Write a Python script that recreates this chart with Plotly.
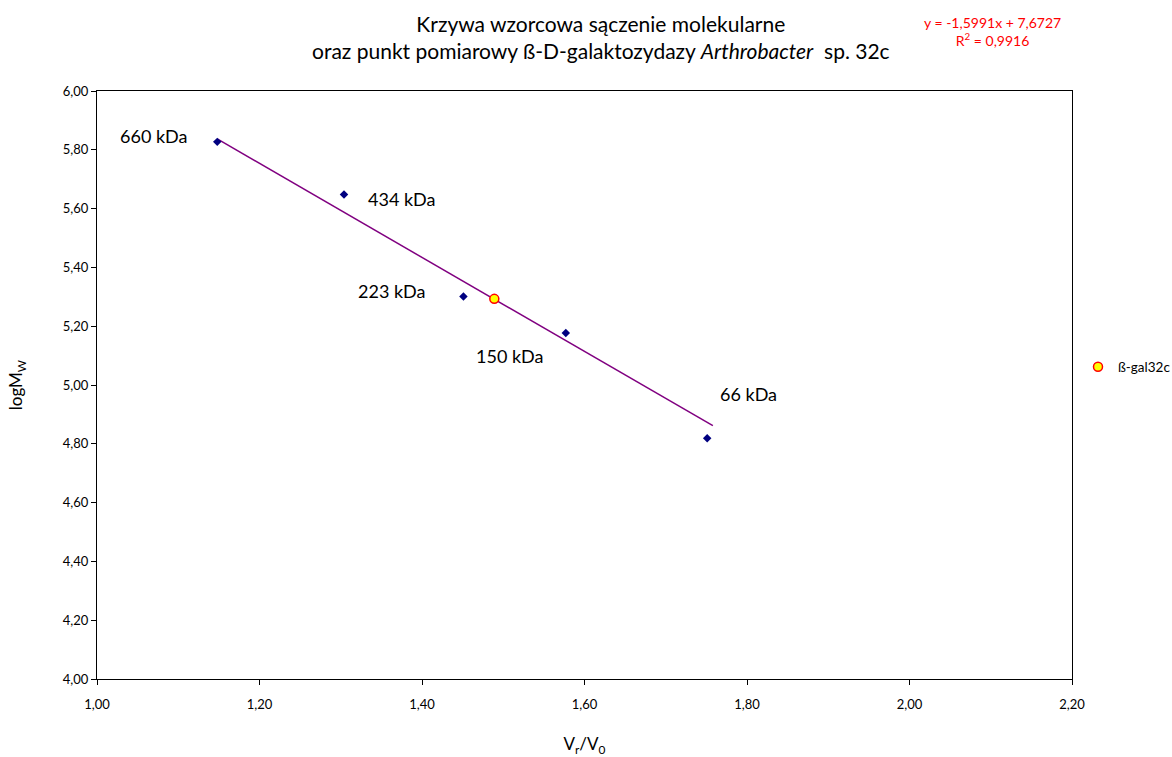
import numpy as np
import plotly.graph_objects as go

# Standards (Vr/V0 vs logMw)
std_labels = ["660 kDa", "434 kDa", "223 kDa", "150 kDa", "66 kDa"]
std_x = [1.148, 1.304, 1.451, 1.577, 1.751]
std_y = [5.827, 5.648, 5.301, 5.177, 4.819]
# label offsets (pixels) relative to each point
label_dx = [-64, 57, -72, -56, 41]
label_dy = [-6, 5, -6, 23, -44]

# measured point
sample_name = "ß-gal32c"
sample_x = [1.489]
sample_y = [5.293]

# trendline parameters (as printed on the chart)
slope = -1.5991
intercept = 7.6727
trend_x_end = 1.758

x_ticks = [1.0, 1.2, 1.4, 1.6, 1.8, 2.0, 2.2]
y_ticks = [4.0, 4.2, 4.4, 4.6, 4.8, 5.0, 5.2, 5.4, 5.6, 5.8, 6.0]

FONT = "Lato"
L, R, T, B = 97, 100, 91, 78
W, H = 1172, 757
PW, PH = W - L - R, H - T - B


def px2paper(px, py):
    return (px - L) / PW, 1 - (py - T) / PH


fig = go.Figure()

tx = np.array([min(std_x), trend_x_end])
fig.add_trace(go.Scatter(
    x=tx, y=slope * tx + intercept, mode="lines",
    line=dict(color="#800080", width=1.5), showlegend=False, hoverinfo="skip"))

fig.add_trace(go.Scatter(
    x=std_x, y=std_y, mode="markers",
    marker=dict(symbol="diamond", size=6.5, color="#000080"),
    showlegend=False, name="standards"))

fig.add_trace(go.Scatter(
    x=sample_x, y=sample_y, mode="markers", name=sample_name,
    marker=dict(symbol="circle", size=9, color="#FFFF00",
                line=dict(color="#FF0000", width=1.5)),
    showlegend=True))

for lab, x, y, dx, dy in zip(std_labels, std_x, std_y, label_dx, label_dy):
    fig.add_annotation(x=x, y=y, text=lab, showarrow=False,
                       xshift=dx, yshift=-dy,
                       font=dict(family=FONT, size=18, color="black"))

# title (two lines)
title_text = ("Krzywa wzorcowa sączenie molekularne<br>"
              "oraz punkt pomiarowy ß-D-galaktozydazy <i>Arthrobacter</i>  sp. 32c")
x0, y0 = px2paper(601, 37)
fig.add_annotation(xref="paper", yref="paper", x=x0, y=y0, text=title_text,
                   showarrow=False, xanchor="center", yanchor="middle", align="center",
                   font=dict(family=FONT, size=21, color="black"))

# trendline equation
eq_text = "y = -1,5991x + 7,6727<br>R<sup>2</sup> = 0,9916"
x0, y0 = px2paper(992, 32)
fig.add_annotation(xref="paper", yref="paper", x=x0, y=y0, text=eq_text,
                   showarrow=False, xanchor="center", yanchor="middle", align="center",
                   font=dict(family=FONT, size=14, color="#FF0000"))

lx, ly = px2paper(1078, 367)
fig.update_layout(
    width=W, height=H,
    margin=dict(l=L, r=R, t=T, b=B, autoexpand=False),
    paper_bgcolor="white", plot_bgcolor="white",
    separators=", ",
    font=dict(family=FONT, size=13, color="black"),
    legend=dict(x=lx, y=ly, xanchor="left", yanchor="middle",
                font=dict(family=FONT, size=13.5), bgcolor="rgba(0,0,0,0)",
                itemwidth=30),
    xaxis=dict(range=[1.0, 2.2], tickvals=x_ticks, tickformat=".2f",
               showgrid=False, zeroline=False, showline=True, linecolor="black",
               linewidth=1, mirror=True, ticks="outside", ticklen=5, tickcolor="black",
               ticklabelstandoff=8,
               title=dict(text="V<sub>r</sub>/V<sub>0</sub>", font=dict(size=17), standoff=28),
               tickfont=dict(size=13)),
    yaxis=dict(range=[4.0, 6.0], tickvals=y_ticks, tickformat=".2f",
               showgrid=False, zeroline=False, showline=True, linecolor="black",
               linewidth=1, mirror=True, ticks="outside", ticklen=5, tickcolor="black",
               title=dict(text="logM<sub>W</sub>", font=dict(size=17), standoff=35),
               tickfont=dict(size=13)),
)

fig.write_html("out.html")
